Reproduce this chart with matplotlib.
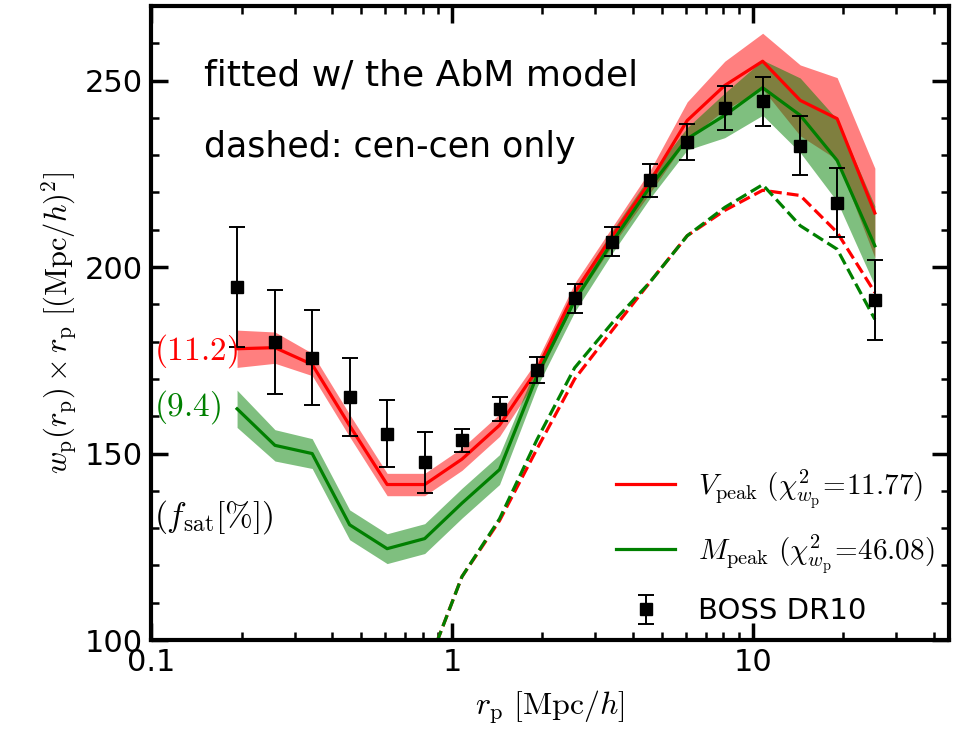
import matplotlib
matplotlib.use('Agg')
import matplotlib.pyplot as plt
import numpy as np

plt.rcParams['mathtext.fontset'] = 'cm'
plt.rcParams['font.family'] = 'DejaVu Sans'

# r_p bins [Mpc/h]
rp = [0.193, 0.258, 0.343, 0.457, 0.609, 0.812, 1.08, 1.44, 1.92,
      2.56, 3.41, 4.55, 6.06, 8.08, 10.8, 14.4, 19.1, 25.5]

# BOSS DR10 measurement, w_p * r_p
boss = [194.7, 179.9, 175.7, 165.2, 155.3, 147.7, 153.6, 162.0, 172.4,
        191.6, 206.8, 223.3, 233.5, 242.7, 244.4, 232.6, 217.3, 191.1]
boss_err = [16.0, 13.9, 12.7, 10.4, 9.0, 8.2, 3.1, 3.3, 3.6,
            3.8, 3.9, 4.4, 4.9, 5.9, 6.6, 7.8, 9.2, 10.7]

# V_peak model (red) and its scatter
vpeak = [178.1, 178.4, 173.9, 157.5, 141.7, 141.7, 148.5, 157.6, 172.5,
         193.2, 208.2, 222.8, 239.3, 248.7, 255.2, 244.7, 239.8, 214.5]
vpeak_sig = [5.0, 4.2, 3.0, 3.0, 3.0, 3.0, 3.0, 3.0, 2.5,
             2.5, 2.5, 3.0, 5.0, 6.5, 7.5, 9.5, 11.0, 12.0]

# M_peak model (green) and its scatter
mpeak = [162.0, 152.2, 150.0, 130.9, 124.5, 127.2, 136.7, 145.7, 170.9,
         191.0, 206.7, 221.4, 234.4, 240.7, 248.1, 240.7, 228.6, 205.7]
mpeak_sig = [5.0, 4.2, 4.0, 4.0, 4.0, 4.0, 4.0, 4.0, 3.0,
             3.0, 3.0, 3.0, 3.0, 6.0, 7.4, 10.0, 11.0, 10.7]

# cen-cen only parts (dashed), from the 6th bin on
rp_cc = rp[5:]
vpeak_cc = [91.0, 117.0, 132.0, 151.3, 170.0, 183.0, 195.9, 208.4, 215.2, 220.6, 219.2, 209.3, 193.2]
mpeak_cc = [91.0, 117.0, 132.5, 153.8, 173.0, 185.0, 195.9, 208.4, 216.0, 222.1, 211.1, 204.8, 186.0]

rp = np.array(rp)
vpeak = np.array(vpeak)
mpeak = np.array(mpeak)
vpeak_sig = np.array(vpeak_sig)
mpeak_sig = np.array(mpeak_sig)

fig = plt.figure(figsize=(9.63, 7.34), dpi=100)
ax = fig.add_axes([0.157, 0.128, 0.8285, 0.8638])

ax.fill_between(rp, vpeak - vpeak_sig, vpeak + vpeak_sig, color='red', alpha=0.5, lw=0)
ax.fill_between(rp, mpeak - mpeak_sig, mpeak + mpeak_sig, color='green', alpha=0.5, lw=0)
ax.plot(rp, vpeak, color='red', lw=2.3, label=r'$V_{\rm peak}\ (\chi^2_{w_{\rm p}}\!=\!11.77)$')
ax.plot(rp, mpeak, color='green', lw=2.3, label=r'$M_{\rm peak}\ (\chi^2_{w_{\rm p}}\!=\!46.08)$')
ax.plot(rp_cc, vpeak_cc, color='red', lw=2.3, ls='--')
ax.plot(rp_cc, mpeak_cc, color='green', lw=2.3, ls='--')
ax.errorbar(rp, boss, yerr=boss_err, fmt='s', color='k', ms=9, elinewidth=1.4,
            capsize=6, capthick=1.4, label='BOSS DR10')

ax.set_xscale('log')
ax.set_xlim(0.1, 45)
ax.set_ylim(100, 270)
ax.set_yticks([100, 150, 200, 250])
ax.set_yticks(np.arange(100, 271, 10), minor=True)
ax.set_xticks([0.1, 1, 10])
ax.set_xticklabels(['0.1', '1', '10'])

ax.tick_params(which='both', direction='in', top=True, right=True, labelsize=22)
ax.tick_params(which='major', length=12, width=2.5, pad=6)
ax.tick_params(which='minor', length=6, width=1.8)
for sp in ax.spines.values():
    sp.set_linewidth(3)

ax.set_xlabel(r'$r_{\rm p}\ [{\rm Mpc}/h]$', fontsize=23, labelpad=8)
ax.set_ylabel(r'$w_{\rm p}(r_{\rm p})\times r_{\rm p}\ [({\rm Mpc}/h)^2]$', fontsize=22, labelpad=4)

ax.text(0.066, 0.891, 'fitted w/ the AbM model', transform=ax.transAxes, fontsize=26, va='center')
ax.text(0.066, 0.778, 'dashed: cen-cen only', transform=ax.transAxes, fontsize=25, va='center')
ax.text(0.1025, 177.4, r'$(11.2)$', color='red', fontsize=24, va='center')
ax.text(0.1025, 162.4, r'$(9.4)$', color='green', fontsize=24, va='center')
ax.text(0.1025, 133.1, r'$(f_{\rm sat}[\%])$', color='k', fontsize=24, va='center')

ax.legend(loc='lower right', frameon=False, fontsize=21, numpoints=1, handlelength=2.0,
          handletextpad=0.8, labelspacing=0.75, borderaxespad=0.1)

fig.savefig('out.png', dpi=100)
